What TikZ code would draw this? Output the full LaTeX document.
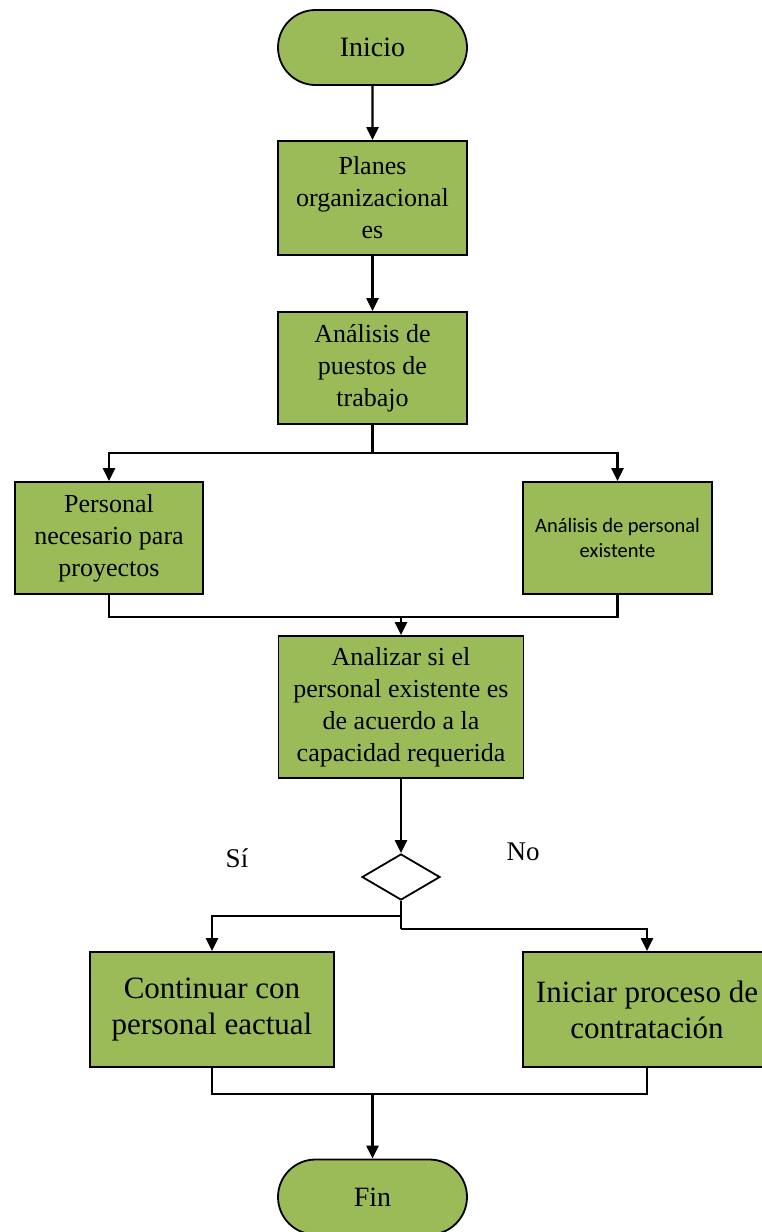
\documentclass[tikz,border=0pt]{standalone}
\usepackage{fontspec}
\setmainfont{Liberation Serif}
\newfontfamily\calibfont{Carlito}
\usetikzlibrary{arrows.meta,shapes.misc,shapes.geometric}
\definecolor{boxgreen}{HTML}{9BBB59}

\begin{document}
\begin{tikzpicture}[x=1pt,y=-1pt,
  stepbox/.style={draw=black, fill=boxgreen, line width=1.8pt, rectangle,
    inner sep=0pt, align=center, font=\fontsize{26}{32}\selectfont},
  bigbox/.style={stepbox, font=\fontsize{31}{36}\selectfont},
  term/.style={draw=black, fill=boxgreen, line width=1.8pt, rounded rectangle,
    minimum width=189pt, minimum height=75pt, inner sep=0pt,
    font=\fontsize{28}{32}\selectfont},
  decision/.style={draw=black, fill=white, diamond, line width=1.8pt,
    minimum width=78pt, minimum height=46pt, inner sep=0pt},
  lbl/.style={font=\fontsize{27}{32}\selectfont},
  conn/.style={draw=black, line width=2.2pt},
  arr/.style={conn, -{Triangle[length=13pt,width=12pt]}},
]
\useasboundingbox (0,0) rectangle (761,1232);

% process steps
\node[term] (inicio) at (372.5,47.5) {Inicio};
\node[stepbox, minimum width=189pt, minimum height=114pt] (planes) at (372.5,198)
  {Planes\\organizacional\\es};
\node[stepbox, minimum width=189pt, minimum height=112pt] (analisis) at (372.5,368)
  {Análisis de\\puestos de\\trabajo};
\node[stepbox, minimum width=188pt, minimum height=112pt] (pers) at (109,538)
  {Personal\\necesario para\\proyectos};
\node[stepbox, minimum width=189pt, minimum height=112pt,
  font=\calibfont\fontsize{20.5}{25}\selectfont] (anpers) at (617.5,538)
  {Análisis de personal\\existente};
\node[stepbox, minimum width=245pt, minimum height=142pt] (analizar) at (401,707)
  {Analizar si el\\personal existente es\\de acuerdo a la\\capacidad requerida};
\node[decision] (dec) at (401,877) {};
\node[lbl] (si) at (237,858) {Sí};
\node[lbl] (no) at (523,852) {No};
\node[bigbox, minimum width=244pt, minimum height=115pt] (cont) at (212,1009.5)
  {Continuar con\\personal eactual};
\node[bigbox, minimum width=248pt, minimum height=115pt] (inic) at (647,1009.5)
  {Iniciar proceso de\\contratación};
\node[term] (fin) at (372.5,1197) {Fin};

% junction points
\coordinate (split1) at (372.5,453);
\coordinate (join1) at (401,617);
\coordinate (b1) at (401,916);
\coordinate (b2) at (401,929);
\coordinate (join2) at (372.5,1094);

% connectors
\draw[arr] (inicio) -- (planes);
\draw[arr] (planes) -- (analisis);
\draw[arr] (analisis.south) -- (split1) -| (pers.north);
\draw[arr] (split1) -| (anpers.north);
\draw[conn] (pers.south) |- (anpers.south |- join1) -- (anpers.south);
\draw[arr] (join1) -- (analizar.north);
\draw[arr] (analizar) -- (dec);
\draw[conn] (dec.south) -- (b2);
\draw[arr] (b1) -| (cont.north);
\draw[arr] (b2) -| (inic.north);
\draw[conn] (cont.south) |- (inic.south |- join2) -- (inic.south);
\draw[arr] (join2) -- (fin.north);
\end{tikzpicture}
\end{document}
